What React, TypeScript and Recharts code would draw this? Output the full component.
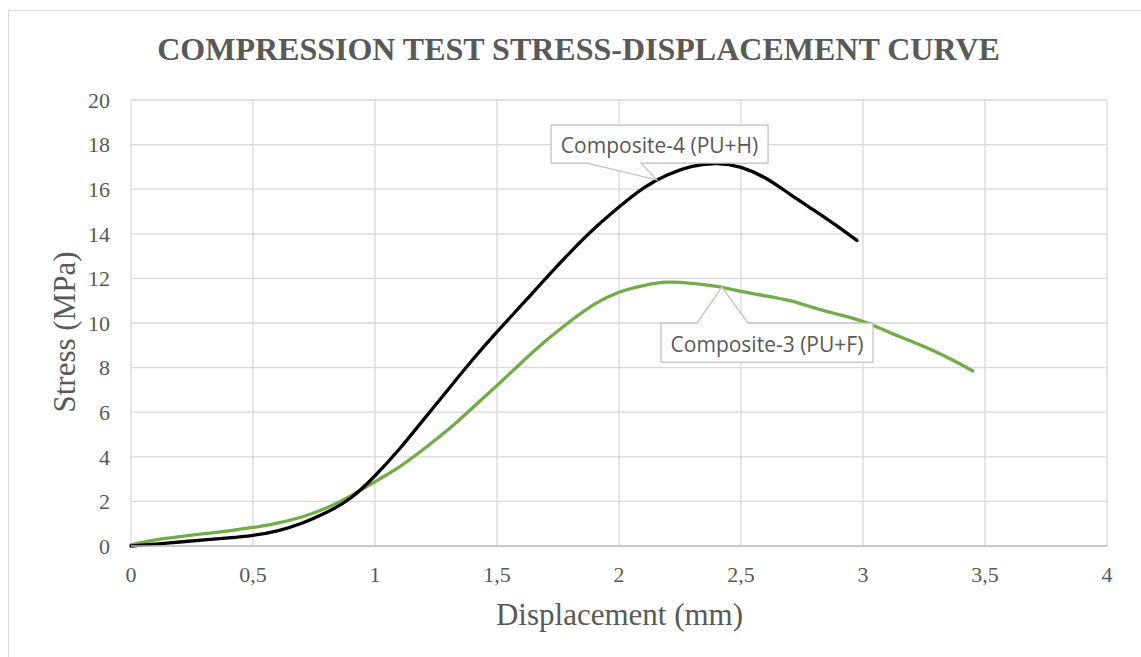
import React from 'react';
import { LineChart, Line, XAxis, YAxis, CartesianGrid, ReferenceDot } from 'recharts';

const chartTitle = 'COMPRESSION TEST STRESS-DISPLACEMENT CURVE';
const xAxisTitle = 'Displacement (mm)';
const yAxisTitle = 'Stress (MPa)';

const xTicks = [0, 0.5, 1, 1.5, 2, 2.5, 3, 3.5, 4];
const yTicks = [0, 2, 4, 6, 8, 10, 12, 14, 16, 18, 20];

// Composite-4 (PU+H) — black
const comp4X = [0, 0.1, 0.2, 0.3, 0.4, 0.5, 0.6, 0.7, 0.8, 0.9, 1.0, 1.1, 1.2, 1.3, 1.4, 1.5, 1.6, 1.7, 1.8, 1.9, 2.0, 2.1, 2.2, 2.3, 2.4, 2.5, 2.6, 2.7, 2.8, 2.9, 2.975];
const comp4Y = [0, 0.08, 0.18, 0.27, 0.36, 0.48, 0.68, 1.02, 1.5, 2.15, 3.15, 4.35, 5.68, 7.02, 8.35, 9.6, 10.8, 12.0, 13.17, 14.25, 15.2, 16.05, 16.65, 17.02, 17.15, 16.98, 16.5, 15.78, 15.05, 14.3, 13.7];

// Composite-3 (PU+F) — green
const comp3X = [0, 0.1, 0.2, 0.3, 0.4, 0.5, 0.6, 0.7, 0.8, 0.9, 1.0, 1.1, 1.2, 1.3, 1.4, 1.5, 1.6, 1.7, 1.8, 1.9, 2.0, 2.1, 2.2, 2.3, 2.4, 2.5, 2.6, 2.7, 2.8, 2.9, 3.0, 3.1, 3.2, 3.3, 3.4, 3.45];
const comp3Y = [0.05, 0.27, 0.42, 0.55, 0.68, 0.83, 1.03, 1.3, 1.7, 2.25, 2.88, 3.55, 4.35, 5.22, 6.2, 7.2, 8.22, 9.2, 10.08, 10.85, 11.38, 11.68, 11.83, 11.78, 11.64, 11.42, 11.22, 11.0, 10.68, 10.38, 10.07, 9.62, 9.17, 8.7, 8.15, 7.85];

const comp4Label = 'Composite-4 (PU+H)';
const comp3Label = 'Composite-3 (PU+F)';
const comp4Anchor = { x: 2.156, y: 16.41 };
const comp3Anchor = { x: 2.422, y: 11.61 };

const comp4Data = comp4X.map((x, i) => ({ x, y: comp4Y[i] }));
const comp3Data = comp3X.map((x, i) => ({ x, y: comp3Y[i] }));

const SERIF = "'Liberation Serif', 'Times New Roman', serif";
const SANS = "'Open Sans', 'Noto Sans', sans-serif";
const TEXT = '#595959';

const fmt = (v: number) => String(v).replace('.', ',');

const Callout4 = (props: any) => {
  const { cx, cy } = props;
  if (cx == null || cy == null) return null;
  const d = `M ${cx - 106} ${cy - 55} H ${cx + 111} V ${cy - 17} H ${cx - 16} L ${cx} ${cy} L ${cx - 70} ${cy - 17} H ${cx - 106} Z`;
  return (
    <g>
      <path d={d} fill="#ffffff" stroke="#bfbfbf" strokeWidth={1.2} />
      <text x={cx + 2.5} y={cy - 27.5} textAnchor="middle" fontFamily={SANS} fontSize={21} fill={TEXT}>
        {comp4Label}
      </text>
    </g>
  );
};

const Callout3 = (props: any) => {
  const { cx, cy } = props;
  if (cx == null || cy == null) return null;
  const d = `M ${cx - 61} ${cy + 36} H ${cx - 25} L ${cx} ${cy} L ${cx + 26} ${cy + 36} H ${cx + 151} V ${cy + 75} H ${cx - 61} Z`;
  return (
    <g>
      <path d={d} fill="#ffffff" stroke="#bfbfbf" strokeWidth={1.2} />
      <text x={cx + 45} y={cy + 65} textAnchor="middle" fontFamily={SANS} fontSize={21} fill={TEXT}>
        {comp3Label}
      </text>
    </g>
  );
};

export default function App() {
  return (
    <div style={{ position: 'absolute', left: 0, top: 0, width: 1141, height: 657, overflow: 'hidden', background: '#fff' }}>
      <div
        style={{
          position: 'absolute',
          left: 8,
          top: 10,
          width: 1160,
          height: 680,
          border: '1px solid #d9d9d9',
          boxSizing: 'border-box',
        }}
      />
      <div style={{ position: 'absolute', left: 0, top: 0 }}>
        <LineChart width={1141} height={657} margin={{ top: 100, right: 34, bottom: 51, left: 31 }}>
          <CartesianGrid stroke="#d9d9d9" strokeWidth={1.3} />
          <XAxis
            dataKey="x"
            type="number"
            domain={[0, 4]}
            ticks={xTicks}
            tickFormatter={fmt}
            height={60}
            allowDuplicatedCategory={false}
            tickLine={false}
            tickSize={0}
            tickMargin={20}
            axisLine={{ stroke: '#bfbfbf', strokeWidth: 1.5 }}
            tick={{ fill: TEXT, fontFamily: SERIF, fontSize: 22 }}
          />
          <YAxis
            dataKey="y"
            type="number"
            domain={[0, 20]}
            ticks={yTicks}
            width={100}
            tickLine={false}
            tickSize={0}
            tickMargin={21}
            axisLine={false}
            tick={{ fill: TEXT, fontFamily: SERIF, fontSize: 22 }}
          />
          <Line
            data={comp3Data}
            dataKey="y"
            type="natural"
            stroke="#70ad47"
            strokeWidth={3.3}
            dot={false}
            strokeLinecap="round"
            isAnimationActive={false}
          />
          <Line
            data={comp4Data}
            dataKey="y"
            type="natural"
            stroke="#000000"
            strokeWidth={3.3}
            dot={false}
            strokeLinecap="round"
            isAnimationActive={false}
          />
          <ReferenceDot x={comp4Anchor.x} y={comp4Anchor.y} r={0} shape={Callout4} ifOverflow="visible" />
          <ReferenceDot x={comp3Anchor.x} y={comp3Anchor.y} r={0} shape={Callout3} ifOverflow="visible" />
        </LineChart>
      </div>
      <svg width={1141} height={657} style={{ position: 'absolute', left: 0, top: 0, pointerEvents: 'none' }}>
        <text x={578.5} y={60} textAnchor="middle" fontFamily={SERIF} fontWeight="bold" fontSize={32} fill={TEXT}>
          {chartTitle}
        </text>
        <text x={619.5} y={625} textAnchor="middle" fontFamily={SERIF} fontSize={31} fill={TEXT}>
          {xAxisTitle}
        </text>
        <text
          x={0}
          y={0}
          transform="translate(74.5 332) rotate(-90)"
          textAnchor="middle"
          fontFamily={SERIF}
          fontSize={31}
          fill={TEXT}
        >
          {yAxisTitle}
        </text>
      </svg>
    </div>
  );
}
